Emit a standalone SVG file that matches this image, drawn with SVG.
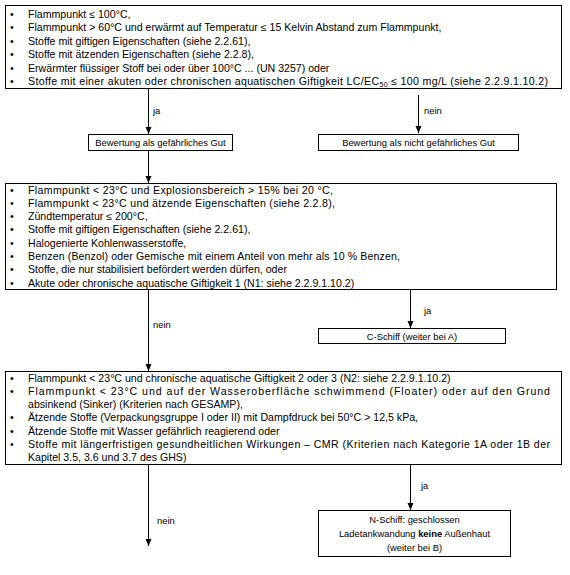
<svg xmlns="http://www.w3.org/2000/svg" width="570" height="575" viewBox="0 0 570 575">
<style>
.t{font-family:"Liberation Sans",Arial,sans-serif;font-size:9.4px;fill:#000}
.b{font-size:10.6px}
.c{text-anchor:middle}
.box{fill:#fff;stroke:#000;stroke-width:1}
.ln{stroke:#000;stroke-width:1;fill:none}
</style>
<defs>
<marker id="ah" markerUnits="userSpaceOnUse" markerWidth="8" markerHeight="8" refX="7" refY="3" orient="auto">
<path d="M0,0 L7,3 L0,6 z" fill="#000"/>
</marker>
</defs>
<rect width="570" height="575" fill="#fff"/>
<g id="connectors">
<line class="ln" x1="148.5" y1="89" x2="148.5" y2="134" marker-end="url(#ah)"/>
<text class="t" x="153" y="114">ja</text>
<line class="ln" x1="418.5" y1="95" x2="418.5" y2="133" marker-end="url(#ah)"/>
<text class="t" x="424" y="114">nein</text>
<line class="ln" x1="148.5" y1="150" x2="148.5" y2="183" marker-end="url(#ah)"/>
<line class="ln" x1="410.5" y1="290" x2="410.5" y2="328" marker-end="url(#ah)"/>
<text class="t" x="424" y="314">ja</text>
<line class="ln" x1="148.5" y1="290" x2="148.5" y2="371" marker-end="url(#ah)"/>
<text class="t" x="153" y="328">nein</text>
<line class="ln" x1="148.5" y1="465" x2="148.5" y2="546" marker-end="url(#ah)"/>
<text class="t" x="157" y="524">nein</text>
<line class="ln" x1="410.5" y1="465" x2="410.5" y2="510" marker-end="url(#ah)"/>
<text class="t" x="421" y="489">ja</text>
</g>
<g id="box1">
<rect class="box" x="5.5" y="5.5" width="556" height="83"/>
<g class="t b">
<text x="10" y="17.5">•</text><text x="28" y="17.5">Flammpunkt ≤ 100°C,</text>
<text x="10" y="31">•</text><text x="28" y="31">Flammpunkt &gt; 60°C und erwärmt auf Temperatur ≤ 15 Kelvin Abstand zum Flammpunkt,</text>
<text x="10" y="44.5">•</text><text x="28" y="44.5">Stoffe mit giftigen Eigenschaften (siehe 2.2.61),</text>
<text x="10" y="58">•</text><text x="28" y="58">Stoffe mit ätzenden Eigenschaften (siehe 2.2.8),</text>
<text x="10" y="71.5">•</text><text x="28" y="71.5">Erwärmter flüssiger Stoff bei oder über 100°C ... (UN 3257) oder</text>
<text x="10" y="85">•</text><text x="28" y="85" textLength="520" lengthAdjust="spacing">Stoffe mit einer akuten oder chronischen aquatischen Giftigkeit LC/EC<tspan font-size="7" dy="2">50</tspan><tspan dy="-2"> ≤ 100 mg/L (siehe 2.2.9.1.10.2)</tspan></text>
</g>
</g>
<g id="gefaehrlich">
<rect class="box" x="88.5" y="134.5" width="144" height="16"/>
<text class="t c" x="160.5" y="146">Bewertung als gefährliches Gut</text>
</g>
<g id="nicht-gefaehrlich">
<rect class="box" x="318.5" y="134.5" width="200" height="16"/>
<text class="t c" x="418.5" y="146">Bewertung als nicht gefährliches Gut</text>
</g>
<g id="box2">
<rect class="box" x="5.5" y="183.5" width="551" height="106"/>
<g class="t b">
<text x="10" y="193.5">•</text><text x="28" y="193.5" textLength="305" lengthAdjust="spacing">Flammpunkt &lt; 23°C und Explosionsbereich &gt; 15% bei 20 °C,</text>
<text x="10" y="206.8">•</text><text x="28" y="206.8" textLength="307" lengthAdjust="spacing">Flammpunkt &lt; 23°C und ätzende Eigenschaften (siehe 2.2.8),</text>
<text x="10" y="220.1">•</text><text x="28" y="220.1">Zündtemperatur ≤ 200°C,</text>
<text x="10" y="233.4">•</text><text x="28" y="233.4">Stoffe mit giftigen Eigenschaften (siehe 2.2.61),</text>
<text x="10" y="246.7">•</text><text x="28" y="246.7">Halogenierte Kohlenwasserstoffe,</text>
<text x="10" y="260">•</text><text x="28" y="260" textLength="372" lengthAdjust="spacing">Benzen (Benzol) oder Gemische mit einem Anteil von mehr als 10 % Benzen,</text>
<text x="10" y="273.3">•</text><text x="28" y="273.3">Stoffe, die nur stabilisiert befördert werden dürfen, oder</text>
<text x="10" y="286.6">•</text><text x="28" y="286.6">Akute oder chronische aquatische Giftigkeit 1 (N1: siehe 2.2.9.1.10.2)</text>
</g>
</g>
<g id="c-schiff">
<rect class="box" x="318.5" y="328.5" width="187" height="15"/>
<text class="t c" x="412" y="339.5">C-Schiff (weiter bei A)</text>
</g>
<g id="box3">
<rect class="box" x="5.5" y="371.5" width="556" height="93"/>
<g class="t b">
<text x="10" y="381.5">•</text><text x="28" y="381.5">Flammpunkt &lt; 23°C und chronische aquatische Giftigkeit 2 oder 3 (N2: siehe 2.2.9.1.10.2)</text>
<text x="10" y="394.8">•</text><text x="28" y="394.8" textLength="522" lengthAdjust="spacing">Flammpunkt &lt; 23°C und auf der Wasseroberfläche schwimmend (Floater) oder auf den Grund</text>
<text x="28" y="408.1">absinkend (Sinker) (Kriterien nach GESAMP),</text>
<text x="10" y="421.4">•</text><text x="28" y="421.4">Ätzende Stoffe (Verpackungsgruppe I oder II) mit Dampfdruck bei 50°C &gt; 12,5 kPa,</text>
<text x="10" y="434.7">•</text><text x="28" y="434.7">Ätzende Stoffe mit Wasser gefährlich reagierend oder</text>
<text x="10" y="448">•</text><text x="28" y="448" textLength="522" lengthAdjust="spacing">Stoffe mit längerfristigen gesundheitlichen Wirkungen – CMR (Kriterien nach Kategorie 1A oder 1B der</text>
<text x="28" y="461.3">Kapitel 3.5, 3.6 und 3.7 des GHS)</text>
</g>
</g>
<g id="n-schiff">
<rect class="box" x="318.5" y="510.5" width="192" height="46"/>
<g class="t c">
<text x="414.5" y="523">N-Schiff: geschlossen</text>
<text x="414.5" y="537">Ladetankwandung <tspan font-weight="bold">keine</tspan> Außenhaut</text>
<text x="414.5" y="551">(weiter bei B)</text>
</g>
</g>
</svg>
